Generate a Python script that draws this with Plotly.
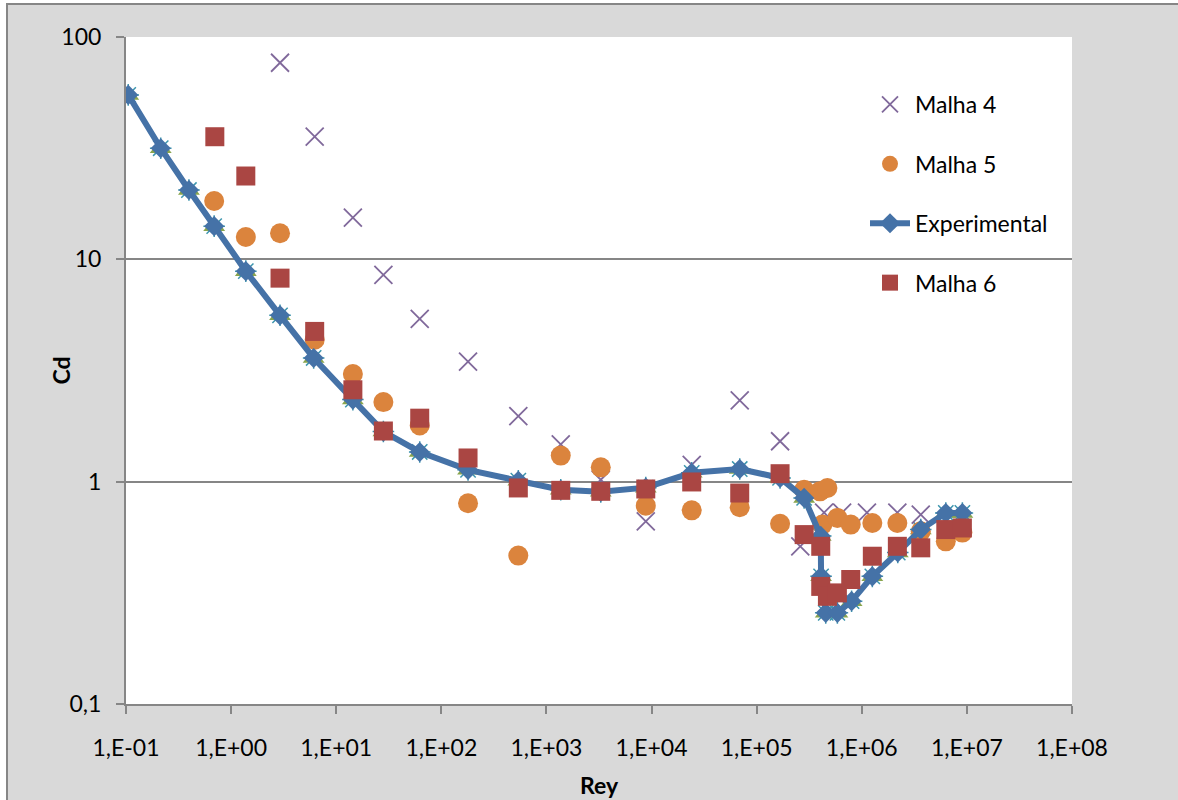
import plotly.graph_objects as go

# ---------------- data ----------------
re_exp = [0.105, 0.214, 0.397, 0.69, 1.38, 2.92, 6.1, 14.4, 28.1, 62.3, 179.5, 540,
          1368, 3287, 8810, 24100, 69000, 1.67e5, 2.83e5, 4.07e5, 4.1e5, 4.54e5,
          5.86e5, 8.0e5, 1.26e6, 2.2e6, 3.64e6, 6.3e6, 9.06e6]
cd_exp = [54.9, 31.6, 20.5, 14.1, 8.85, 5.6, 3.6, 2.34, 1.68, 1.36, 1.13, 1.01,
          0.92, 0.90, 0.94, 1.096, 1.14, 1.04, 0.845, 0.57, 0.375, 0.257,
          0.257, 0.29, 0.375, 0.48, 0.609, 0.723, 0.723]

re_m4 = [2.92, 6.24, 14.4, 28.1, 62.3, 179.5, 540, 1368, 3287, 8810, 24100, 69000,
         1.67e5, 2.6e5, 4.38e5, 6.5e5, 1.12e6, 2.18e6, 3.64e6]
cd_m4 = [76.6, 35.6, 15.4, 8.51, 5.4, 3.47, 1.97, 1.47, 1.02, 0.663, 1.19, 2.32,
         1.52, 0.512, 0.726, 0.726, 0.726, 0.726, 0.711]

re_m5 = [0.69, 1.38, 2.92, 6.24, 14.4, 28.1, 62.3, 179.5, 540, 1368, 3287, 8810,
         24100, 69000, 1.67e5, 2.83e5, 4.0e5, 4.22e5, 4.71e5, 5.86e5, 7.85e5,
         1.26e6, 2.18e6, 3.64e6, 6.3e6, 9.06e6]
cd_m5 = [18.3, 12.6, 13.1, 4.35, 3.05, 2.28, 1.79, 0.80, 0.465, 1.31, 1.16, 0.78,
         0.743, 0.767, 0.647, 0.92, 0.905, 0.641, 0.937, 0.687, 0.641,
         0.652, 0.652, 0.598, 0.539, 0.59]

re_m6 = [0.70, 1.38, 2.92, 6.24, 14.4, 28.1, 62.3, 179.5, 540, 1368, 3287, 8810,
         24100, 69000, 1.67e5, 2.83e5, 4.07e5, 4.07e5, 4.71e5, 5.86e5, 7.85e5,
         1.26e6, 2.18e6, 3.64e6, 6.3e6, 9.06e6]
cd_m6 = [35.6, 23.7, 8.23, 4.74, 2.59, 1.69, 1.93, 1.278, 0.937, 0.914, 0.905, 0.927,
         0.997, 0.889, 1.086, 0.578, 0.512, 0.338, 0.305, 0.316, 0.363,
         0.462, 0.512, 0.504, 0.609, 0.619]

# hidden series lying under the experimental curve
re_m2 = list(re_exp)
cd_m2 = list(cd_exp)
re_m3 = list(re_exp)
cd_m3 = list(cd_exp)

x_tickvals = [1e-1, 1e0, 1e1, 1e2, 1e3, 1e4, 1e5, 1e6, 1e7, 1e8]
x_ticktext = ["1,E-01", "1,E+00", "1,E+01", "1,E+02", "1,E+03", "1,E+04",
              "1,E+05", "1,E+06", "1,E+07", "1,E+08"]
y_tickvals = [0.1, 1, 10, 100]
y_ticktext = ["0,1", "1", "10", "100"]

# ---------------- figure ----------------
FONT = "Lato"
fig = go.Figure()

fig.add_trace(go.Scatter(x=re_m2, y=cd_m2, mode="markers", name="Malha 2",
                         showlegend=False,
                         marker=dict(symbol="triangle-up", size=19, color="#89A54E")))
fig.add_trace(go.Scatter(x=re_m3, y=cd_m3, mode="markers", name="Malha 3",
                         showlegend=False,
                         marker=dict(symbol="asterisk-open", size=18, color="#3D96AE",
                                     line=dict(color="#3D96AE", width=1.5))))
fig.add_trace(go.Scatter(x=re_m4, y=cd_m4, mode="markers", name="Malha 4",
                         legendgroup="g4",
                         marker=dict(symbol="x-thin-open", size=18, color="#80699B",
                                     line=dict(color="#80699B", width=1.8))))
fig.add_trace(go.Scatter(x=re_m5, y=cd_m5, mode="markers", name="Malha 5",
                         legendgroup="g5",
                         marker=dict(symbol="circle", size=20, color="#DB843D")))
fig.add_trace(go.Scatter(x=re_exp, y=cd_exp, mode="lines+markers", name="Experimental",
                         legendgroup="g6",
                         line=dict(color="#4572A7", width=6),
                         marker=dict(symbol="diamond", size=15.5, color="#4572A7")))
fig.add_trace(go.Scatter(x=re_m6, y=cd_m6, mode="markers", name="Malha 6",
                         legendgroup="g7",
                         marker=dict(symbol="square", size=19, color="#AA4643")))

axis_col = "#868686"
fig.update_xaxes(type="log", range=[-1, 8], tickvals=x_tickvals, ticktext=x_ticktext,
                 showgrid=False, showline=True, linecolor=axis_col, linewidth=2,
                 ticks="outside", ticklen=8, tickcolor=axis_col, tickwidth=1.5,
                 ticklabelstandoff=14,
                 tickfont=dict(family=FONT, size=23, color="black"),
                 zeroline=False)
fig.update_yaxes(type="log", range=[-1, 2], tickvals=y_tickvals, ticktext=y_ticktext,
                 showgrid=True, gridcolor=axis_col, gridwidth=1.5,
                 showline=True, linecolor=axis_col, linewidth=2,
                 ticks="outside", ticklen=8, tickcolor=axis_col, tickwidth=1.5,
                 ticklabelstandoff=10,
                 tickfont=dict(family=FONT, size=23, color="black"),
                 zeroline=False)

pw, ph = 946.0, 667.0
L, T = 126, 37

def px_x(p):
    return (p - L) / pw

def px_y(p):
    return 1 - (p - T) / ph

# chart area: grey with border, white outside (left/top strip)
fig.add_shape(type="rect", xref="paper", yref="paper",
              x0=px_x(7), x1=px_x(1200), y0=px_y(820), y1=px_y(4),
              line=dict(color=axis_col, width=2), fillcolor="#D9D9D9", layer="below")
# white plot area on top of the grey chart area
fig.add_shape(type="rect", xref="paper", yref="paper",
              x0=0, x1=1, y0=0, y1=1,
              line=dict(width=0), fillcolor="white", layer="below")

fig.add_annotation(text="<b>Cd</b>", xref="paper", yref="paper",
                   x=px_x(60), y=0.5, xanchor="center", yanchor="middle",
                   textangle=-90, showarrow=False,
                   font=dict(family=FONT, size=23, color="black"))
fig.add_annotation(text="<b>Rey</b>", xref="paper", yref="paper",
                   x=0.5, y=px_y(785), xanchor="center", yanchor="middle",
                   showarrow=False,
                   font=dict(family=FONT, size=23, color="black"))

fig.update_layout(
    width=1178, height=800, autosize=False,
    margin=dict(l=L, r=1178 - 1072, t=T, b=800 - 704, pad=0),
    paper_bgcolor="white", plot_bgcolor="white",
    font=dict(family=FONT, size=23, color="black"),
    legend=dict(x=px_x(865), y=px_y(83), xanchor="left", yanchor="top",
                bgcolor="rgba(0,0,0,0)", font=dict(family=FONT, size=23, color="black"),
                tracegroupgap=26.5, itemwidth=40),
    showlegend=True,
)

fig.write_html("out.html", config={"displayModeBar": False},
               post_script="document.body.style.margin='0';document.body.style.overflow='hidden';")
